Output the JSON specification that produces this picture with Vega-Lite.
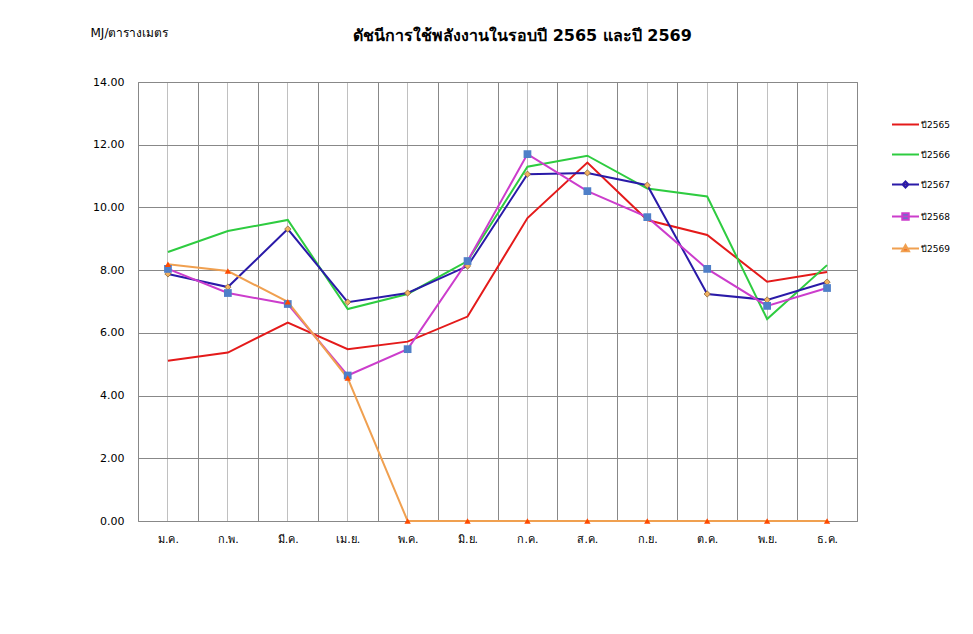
{
  "$schema": "https://vega.github.io/schema/vega-lite/v6.json",
  "autosize": "none",
  "width": 719,
  "height": 439,
  "padding": {"left": 138, "top": 82, "right": 116, "bottom": 113},
  "background": "white",
  "title": {
    "text": "ดัชนีการใช้พลังงานในรอบปี 2565 และปี 2569",
    "fontSize": 16,
    "fontWeight": "bold",
    "font": "DejaVu Sans",
    "color": "black",
    "anchor": "middle",
    "dx": 25,
    "offset": -18
  },
  "config": {
    "view": {"stroke": "#888888", "strokeWidth": 1},
    "axis": {"labelFont": "DejaVu Sans", "labelFontSize": 11, "labelColor": "black", "ticks": false, "domain": false},
    "legend": {
      "orient": "none",
      "legendX": 753,
      "legendY": 28,
      "padding": 0,
      "rowPadding": 10,
      "symbolSize": 729,
      "symbolStrokeWidth": 2,
      "symbolOpacity": 1,
      "labelFont": "DejaVu Sans",
      "labelFontSize": 9,
      "labelColor": "black",
      "labelOffset": 1
    }
  },
  "data": {
    "values": [
      {"m": "ม.ค.", "s": "ปี2565", "v": 5.11},
      {"m": "ก.พ.", "s": "ปี2565", "v": 5.37},
      {"m": "มี.ค.", "s": "ปี2565", "v": 6.33},
      {"m": "เม.ย.", "s": "ปี2565", "v": 5.48},
      {"m": "พ.ค.", "s": "ปี2565", "v": 5.72},
      {"m": "มิ.ย.", "s": "ปี2565", "v": 6.52},
      {"m": "ก.ค.", "s": "ปี2565", "v": 9.66},
      {"m": "ส.ค.", "s": "ปี2565", "v": 11.43},
      {"m": "ก.ย.", "s": "ปี2565", "v": 9.6},
      {"m": "ต.ค.", "s": "ปี2565", "v": 9.12},
      {"m": "พ.ย.", "s": "ปี2565", "v": 7.63},
      {"m": "ธ.ค.", "s": "ปี2565", "v": 7.94},
      {"m": "ม.ค.", "s": "ปี2566", "v": 8.58},
      {"m": "ก.พ.", "s": "ปี2566", "v": 9.25},
      {"m": "มี.ค.", "s": "ปี2566", "v": 9.6},
      {"m": "เม.ย.", "s": "ปี2566", "v": 6.76},
      {"m": "พ.ค.", "s": "ปี2566", "v": 7.24},
      {"m": "มิ.ย.", "s": "ปี2566", "v": 8.29},
      {"m": "ก.ค.", "s": "ปี2566", "v": 11.3},
      {"m": "ส.ค.", "s": "ปี2566", "v": 11.65},
      {"m": "ก.ย.", "s": "ปี2566", "v": 10.6},
      {"m": "ต.ค.", "s": "ปี2566", "v": 10.35},
      {"m": "พ.ย.", "s": "ปี2566", "v": 6.44},
      {"m": "ธ.ค.", "s": "ปี2566", "v": 8.16},
      {"m": "ม.ค.", "s": "ปี2567", "v": 7.88},
      {"m": "ก.พ.", "s": "ปี2567", "v": 7.46},
      {"m": "มี.ค.", "s": "ปี2567", "v": 9.31},
      {"m": "เม.ย.", "s": "ปี2567", "v": 6.98},
      {"m": "พ.ค.", "s": "ปี2567", "v": 7.27},
      {"m": "มิ.ย.", "s": "ปี2567", "v": 8.13},
      {"m": "ก.ค.", "s": "ปี2567", "v": 11.06},
      {"m": "ส.ค.", "s": "ปี2567", "v": 11.1},
      {"m": "ก.ย.", "s": "ปี2567", "v": 10.71},
      {"m": "ต.ค.", "s": "ปี2567", "v": 7.24},
      {"m": "พ.ย.", "s": "ปี2567", "v": 7.05},
      {"m": "ธ.ค.", "s": "ปี2567", "v": 7.62},
      {"m": "ม.ค.", "s": "ปี2568", "v": 8.04},
      {"m": "ก.พ.", "s": "ปี2568", "v": 7.27},
      {"m": "มี.ค.", "s": "ปี2568", "v": 6.92},
      {"m": "เม.ย.", "s": "ปี2568", "v": 4.64},
      {"m": "พ.ค.", "s": "ปี2568", "v": 5.48},
      {"m": "มิ.ย.", "s": "ปี2568", "v": 8.29},
      {"m": "ก.ค.", "s": "ปี2568", "v": 11.7},
      {"m": "ส.ค.", "s": "ปี2568", "v": 10.52},
      {"m": "ก.ย.", "s": "ปี2568", "v": 9.69},
      {"m": "ต.ค.", "s": "ปี2568", "v": 8.04},
      {"m": "พ.ย.", "s": "ปี2568", "v": 6.86},
      {"m": "ธ.ค.", "s": "ปี2568", "v": 7.43},
      {"m": "ม.ค.", "s": "ปี2569", "v": 8.19},
      {"m": "ก.พ.", "s": "ปี2569", "v": 7.97},
      {"m": "มี.ค.", "s": "ปี2569", "v": 6.99},
      {"m": "เม.ย.", "s": "ปี2569", "v": 4.56},
      {"m": "พ.ค.", "s": "ปี2569", "v": 0},
      {"m": "มิ.ย.", "s": "ปี2569", "v": 0},
      {"m": "ก.ค.", "s": "ปี2569", "v": 0},
      {"m": "ส.ค.", "s": "ปี2569", "v": 0},
      {"m": "ก.ย.", "s": "ปี2569", "v": 0},
      {"m": "ต.ค.", "s": "ปี2569", "v": 0},
      {"m": "พ.ย.", "s": "ปี2569", "v": 0},
      {"m": "ธ.ค.", "s": "ปี2569", "v": 0}
    ]
  },
  "resolve": {"axis": {"x": "independent"}},
  "layer": [
    {
      "mark": {"type": "line", "strokeWidth": 2},
      "encoding": {
        "x": {
          "field": "m", "type": "ordinal", "bandPosition": 0.5,
          "scale": {"type": "band", "paddingInner": 0, "paddingOuter": 0,
            "domain": ["ม.ค.", "ก.พ.", "มี.ค.", "เม.ย.", "พ.ค.", "มิ.ย.", "ก.ค.", "ส.ค.", "ก.ย.", "ต.ค.", "พ.ย.", "ธ.ค."]},
          "axis": {"orient": "bottom", "title": null, "labelAngle": 0, "labelPadding": 12, "grid": true, "tickBand": "extent", "gridColor": "#888888", "gridOpacity": 1, "gridWidth": 1}
        },
        "y": {
          "field": "v", "type": "quantitative",
          "scale": {"domain": [0, 14], "nice": false},
          "axis": {
            "values": [0, 2, 4, 6, 8, 10, 12, 14], "format": ".2f", "labelPadding": 14,
            "gridColor": "#888888", "gridOpacity": 1,
            "title": "MJ/ตารางเมตร", "titleAngle": 0, "titleAlign": "left", "titleBaseline": "middle",
            "titleX": -48, "titleY": -50, "titleFontSize": 12, "titleFontWeight": "normal", "titleFont": "DejaVu Sans", "titleColor": "black"
          }
        },
        "color": {
          "field": "s", "type": "nominal", "legend": null,
          "scale": {"domain": ["ปี2569", "ปี2568", "ปี2567", "ปี2566", "ปี2565"],
            "range": ["#f0a050", "#cc3dcc", "#2a1aa8", "#2ecc40", "#e41a1a"]}
        }
      }
    },
    {
      "transform": [{"filter": "datum.s == 'ปี2567'"}],
      "mark": {"type": "point", "shape": "diamond", "filled": true, "fill": "#f0b060", "stroke": "#7a5a30", "strokeWidth": 0.7, "size": 40, "opacity": 1},
      "encoding": {
        "x": {"field": "m", "type": "ordinal", "bandPosition": 0.5, "axis": null},
        "y": {"field": "v", "type": "quantitative"}
      }
    },
    {
      "transform": [{"filter": "datum.s == 'ปี2568'"}],
      "mark": {"type": "point", "shape": "square", "filled": true, "fill": "#4f7fc8", "size": 60, "opacity": 1},
      "encoding": {
        "x": {"field": "m", "type": "ordinal", "bandPosition": 0.5, "axis": null},
        "y": {"field": "v", "type": "quantitative"}
      }
    },
    {
      "transform": [{"filter": "datum.s == 'ปี2569'"}],
      "mark": {"type": "point", "shape": "triangle-up", "filled": true, "fill": "#ff4a00", "size": 40, "opacity": 1},
      "encoding": {
        "x": {"field": "m", "type": "ordinal", "bandPosition": 0.5, "axis": null},
        "y": {"field": "v", "type": "quantitative"}
      }
    },
    {
      "mark": {"type": "point", "filled": false, "strokeWidth": 2, "opacity": 0},
      "encoding": {
        "x": {
          "field": "m", "type": "ordinal", "bandPosition": 0.5,
          "axis": {"orient": "top", "title": null, "labels": false, "grid": true, "gridColor": "#c0c0c0", "gridOpacity": 1, "gridWidth": 1}
        },
        "y": {"field": "v", "type": "quantitative"},
        "stroke": {
          "field": "s", "type": "nominal",
          "scale": {"domain": ["ปี2565", "ปี2566", "ปี2567", "ปี2568", "ปี2569"],
            "range": ["#e41a1a", "#2ecc40", "#2a1aa8", "#cc3dcc", "#f0a050"]},
          "legend": {"title": null, "encode": {"symbols": {"update": {"fill": {"scale": "fill", "field": "value"}, "stroke": {"scale": "stroke", "field": "value"}}}}}
        },
        "fill": {
          "field": "s", "type": "nominal",
          "scale": {"domain": ["ปี2565", "ปี2566", "ปี2567", "ปี2568", "ปี2569"],
            "range": ["#e41a1a", "#2ecc40", "#f0b060", "#4f7fc8", "#ff4a00"]},
          "legend": {"title": null, "encode": {"symbols": {"update": {"fill": {"scale": "fill", "field": "value"}, "stroke": {"scale": "stroke", "field": "value"}}}}}
        },
        "shape": {
          "field": "s", "type": "nominal",
          "scale": {"domain": ["ปี2565", "ปี2566", "ปี2567", "ปี2568", "ปี2569"],
            "range": ["M-1,0H1", "M-1,0H1", "M-1,0H1M0,-0.22L0.22,0L0,0.22L-0.22,0Z", "M-1,0H1M-0.24,-0.24H0.24V0.24H-0.24Z", "M-1,0H1M0,-0.26L0.26,0.2H-0.26Z"]},
          "legend": {"title": null, "encode": {"symbols": {"update": {"fill": {"scale": "fill", "field": "value"}, "stroke": {"scale": "stroke", "field": "value"}}}}}
        }
      }
    }
  ]
}
